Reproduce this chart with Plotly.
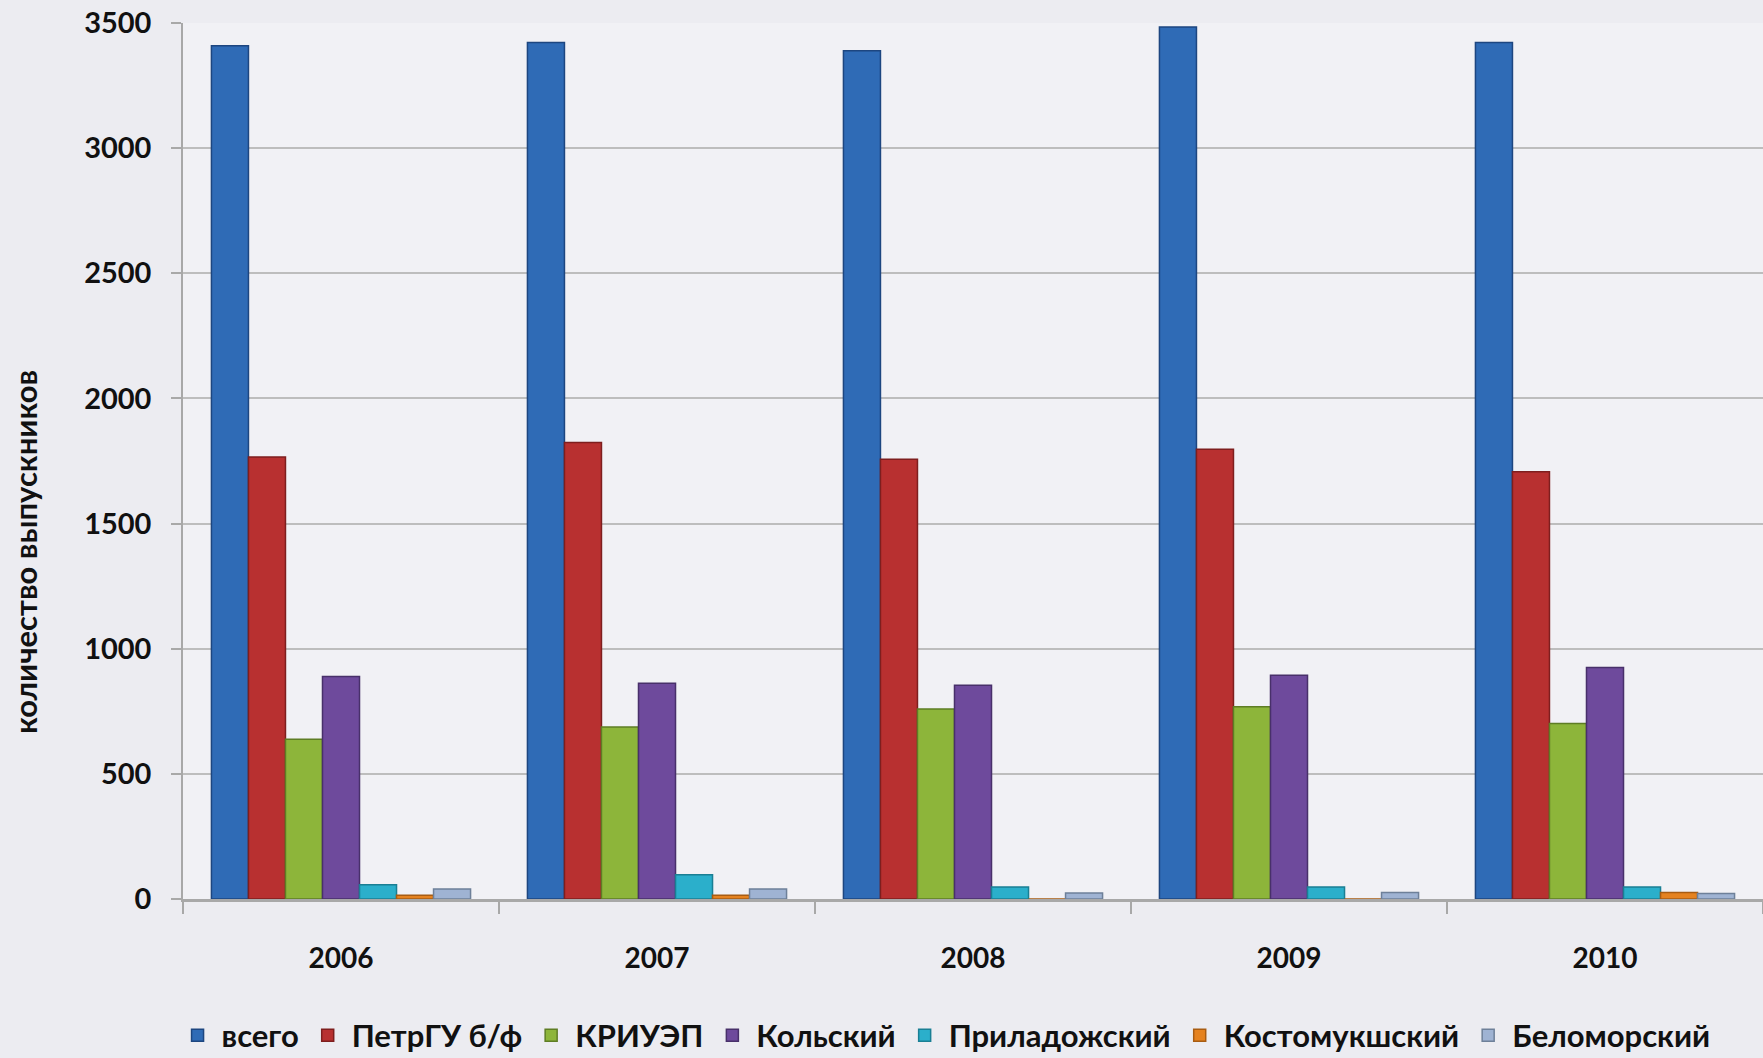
import plotly.graph_objects as go

years = ["2006", "2007", "2008", "2009", "2010"]
series_names = ["всего", "ПетрГУ б/ф", "КРИУЭП", "Кольский", "Приладожский", "Костомукшский", "Беломорский"]
vsego = [3409, 3422, 3389, 3484, 3422]
petrgu = [1766, 1824, 1757, 1797, 1707]
kriuep = [638, 687, 759, 768, 701]
kolsky = [889, 862, 854, 894, 925]
priladozhsky = [57, 97, 48, 48, 48]
kostomuksha = [15, 15, 0, 0, 26]
belomorsky = [40, 40, 24, 26, 22]
y_ticks = [0, 500, 1000, 1500, 2000, 2500, 3000, 3500]
y_title = "количество выпускников"

values = [vsego, petrgu, kriuep, kolsky, priladozhsky, kostomuksha, belomorsky]
colors = ["#2F6BB6", "#B83030", "#8DB53A", "#6E4A9C", "#2BAFCB", "#E5821F", "#9FB3D3"]
lines = ["#1D4680", "#7E1E1E", "#5E7D24", "#48306A", "#1A7F94", "#A85C12", "#6E8099"]

fig = go.Figure()
for name, vals, c, lc in zip(series_names, values, colors, lines):
    fig.add_trace(go.Bar(
        x=years, y=vals, name=name,
        marker=dict(color=c, line=dict(color=lc, width=1.5)),
    ))

font_family = "Lato, Open Sans, DejaVu Sans, sans-serif"
fig.update_layout(
    width=1763, height=1058,
    barmode="group", bargap=0.18, bargroupgap=0.0,
    paper_bgcolor="#ECECF1", plot_bgcolor="#F1F1F5",
    margin=dict(l=183, r=0, t=23, b=159, autoexpand=False),
    font=dict(family=font_family, size=28, color="#111111", weight=700),
    showlegend=True,
    legend=dict(orientation="h", x=0.482, xanchor="center", y=-0.156, yanchor="middle",
                font=dict(size=31, weight=700), bgcolor="rgba(0,0,0,0)",
                itemwidth=38, tracegroupgap=0),
    xaxis=dict(
        automargin=False,
        showline=True, linecolor="#A8A8A8", linewidth=3,
        ticks="outside", tickson="boundaries", ticklen=12, tickcolor="#A8A8A8", tickwidth=1.5,
        ticklabelstandoff=32, tickfont=dict(size=28, weight=700),
        showgrid=False,
    ),
    yaxis=dict(
        automargin=False,
        range=[0, 3500], tickvals=y_ticks,
        showline=True, linecolor="#A8A8A8", linewidth=1.5,
        ticks="outside", ticklen=10, tickcolor="#A8A8A8", tickwidth=1.5,
        gridcolor="#BDBDBD", gridwidth=1.5,
        tickfont=dict(size=29, weight=700),
        ticklabelstandoff=14,
        zeroline=False,
    ),
    annotations=[dict(
        text=y_title, textangle=-90, xref="paper", yref="paper",
        x=-0.1, y=0.396, xanchor="center", yanchor="middle", showarrow=False,
        font=dict(size=31, weight=700, color="#111111"),
    )],
)

fig.write_html("out.html", config={"displayModeBar": False},
               post_script="document.body.style.margin='0';document.body.style.overflow='hidden';")
